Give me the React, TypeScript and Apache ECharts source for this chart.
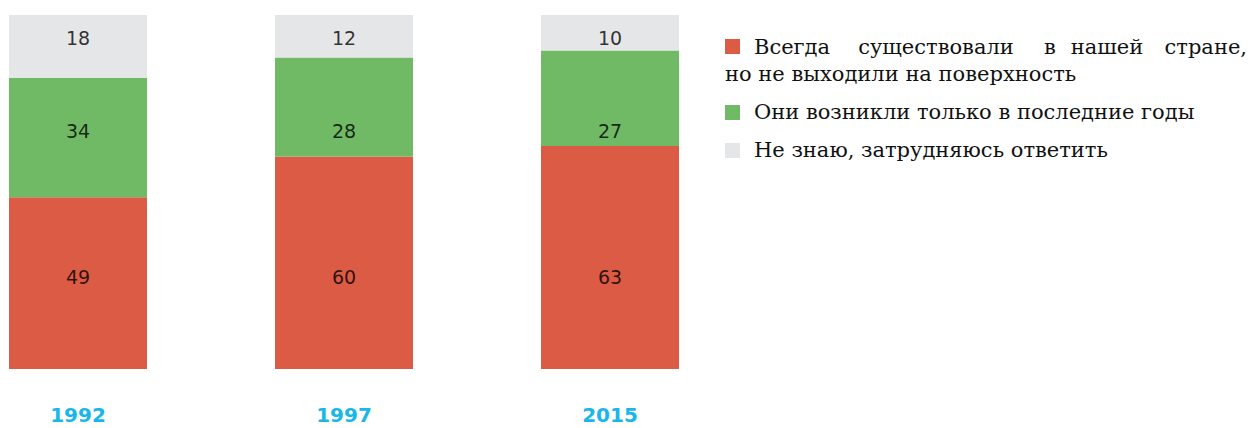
import React, { useEffect, useRef } from "react";
import * as echarts from "echarts";

const YEARS = ["1992", "1997", "2015"];
const ALWAYS = [49, 60, 63];
const RECENT = [34, 28, 27];
const DONT_KNOW = [18, 12, 10];
const SERIES_NAMES = [
  "Всегда существовали в нашей стране, но не выходили на поверхность",
  "Они возникли только в последние годы",
  "Не знаю, затрудняюсь ответить",
];
const COLORS = ["#db5b45", "#71ba65", "#e5e6e8"];
// vertical positions (in percent of bar height) where the value labels sit
const LABEL_LEVELS = [26, 67.2, 93.5];

export default function App() {
  const ref = useRef<HTMLDivElement>(null);
  useEffect(() => {
    if (!ref.current) return;
    const chart = echarts.init(ref.current, undefined, { renderer: "svg" });
    const totals = YEARS.map((_, i) => ALWAYS[i] + RECENT[i] + DONT_KNOW[i]);
    const norm = (arr: number[]) => arr.map((v, i) => (v / totals[i]) * 100);
    const groups = [ALWAYS, RECENT, DONT_KNOW];

    const barSeries = groups.map((g, k) => ({
      type: "bar",
      name: SERIES_NAMES[k],
      stack: "total",
      barWidth: 138,
      clip: false,
      silent: true,
      itemStyle: { color: COLORS[k] },
      data: norm(g),
    }));

    const labelData: any[] = [];
    groups.forEach((g, k) => {
      g.forEach((v, i) => labelData.push([i, LABEL_LEVELS[k], v]));
    });

    const legendFont = "'DejaVu Serif', serif";
    const legendSize = 21;
    const legendColor = "#111";
    const f = `${legendSize}px ${legendFont}`;
    const graphic: any[] = [
      { type: "rect", left: 725, top: 39, shape: { width: 15, height: 15 }, style: { fill: COLORS[0] } },
      { type: "text", x: 754, y: 47, style: { text: "Всегда", font: f, fill: legendColor, textVerticalAlign: "middle", textAlign: "left" } },
      { type: "text", x: 936, y: 47, style: { text: "существовали", font: f, fill: legendColor, textVerticalAlign: "middle", textAlign: "center" } },
      { type: "text", x: 1050, y: 47, style: { text: "в", font: f, fill: legendColor, textVerticalAlign: "middle", textAlign: "center" } },
      { type: "text", x: 1107, y: 47, style: { text: "нашей", font: f, fill: legendColor, textVerticalAlign: "middle", textAlign: "center" } },
      { type: "text", x: 1247, y: 47, style: { text: "стране,", font: f, fill: legendColor, textVerticalAlign: "middle", textAlign: "right" } },
      { type: "text", x: 725, y: 74, style: { text: "но не выходили на поверхность", font: f, fill: legendColor, textVerticalAlign: "middle", textAlign: "left" } },
      { type: "rect", left: 725, top: 105, shape: { width: 15, height: 15 }, style: { fill: COLORS[1] } },
      { type: "text", x: 754, y: 112, style: { text: SERIES_NAMES[1], font: f, fill: legendColor, textVerticalAlign: "middle", textAlign: "left" } },
      { type: "rect", left: 725, top: 143, shape: { width: 15, height: 15 }, style: { fill: COLORS[2] } },
      { type: "text", x: 754, y: 150, style: { text: SERIES_NAMES[2], font: f, fill: legendColor, textVerticalAlign: "middle", textAlign: "left" } },
    ];

    chart.setOption({
      animation: false,
      grid: { left: 78, right: 642, top: 15, bottom: 59, containLabel: false },
      xAxis: {
        type: "category",
        data: YEARS,
        boundaryGap: false,
        axisLine: { show: false },
        axisTick: { show: false },
        splitLine: { show: false },
        axisLabel: {
          margin: 36,
          color: "#19b7e9",
          fontWeight: "bold",
          fontSize: 20,
          fontFamily: "'DejaVu Sans', sans-serif",
        },
      },
      yAxis: { type: "value", min: 0, max: 100, show: false },
      series: [
        ...barSeries,
        {
          type: "scatter",
          symbolSize: 0,
          silent: true,
          clip: false,
          data: labelData,
          label: {
            show: true,
            position: "inside",
            formatter: (p: any) => String(p.value[2]),
            color: "#000",
            fontSize: 19,
            fontFamily: "'DejaVu Sans', sans-serif",
          },
        },
      ],
      graphic,
    });
    return () => chart.dispose();
  }, []);
  return (
    <div
      ref={ref}
      style={{ position: "fixed", left: 0, top: 0, width: 1252, height: 428, background: "#fff" }}
    />
  );
}
